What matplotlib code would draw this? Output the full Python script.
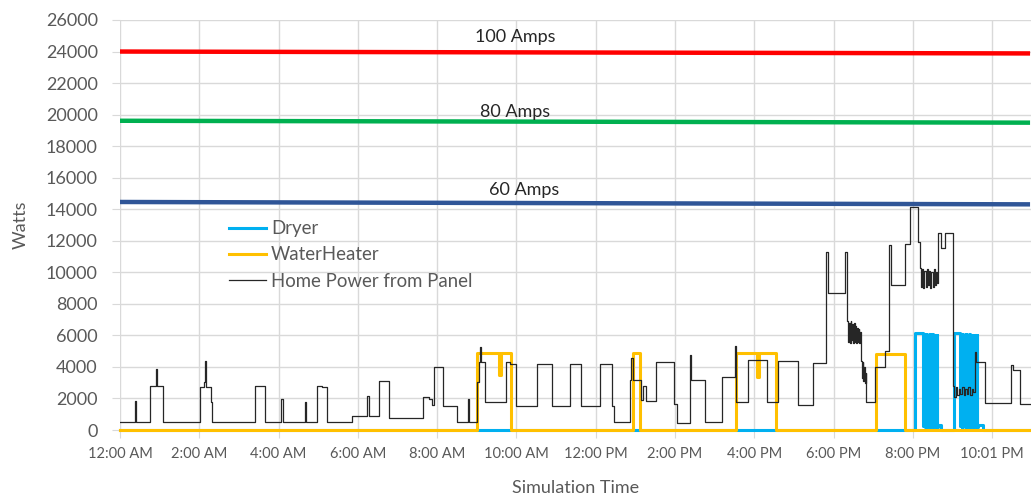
import matplotlib
matplotlib.use("Agg")
import matplotlib.pyplot as plt

# Hours since midnight and watts, drawn as steps
tick_hours = [0, 2, 4, 6, 8, 10, 12, 14, 16, 18, 20, 22]
tick_labels = ["12:00 AM", "2:00 AM", "4:00 AM", "6:00 AM", "8:00 AM", "10:00 AM",
               "12:00 PM", "2:00 PM", "4:00 PM", "6:00 PM", "8:00 PM", "10:01 PM"]

# Service limits (start / end value)
limit_labels = ["100 Amps", "80 Amps", "60 Amps"]
limit_start = [24000, 19610, 14460]
limit_end = [23880, 19490, 14310]
limit_colors = ["#FF0000", "#00B050", "#2F5597"]

home_t = [0.00, 0.38, 0.41, 0.76, 0.90, 0.93, 1.09, 2.02, 2.13, 2.15, 2.18, 2.29, 2.31,
          3.40, 3.66, 4.07, 4.10, 4.67, 4.70, 4.98, 5.10, 5.23, 5.84, 6.24, 6.27, 6.54, 6.79,
          7.65, 7.80, 7.87, 7.92, 8.15, 8.49, 8.78, 8.81, 9.00, 9.05, 9.08, 9.11, 9.20,
          9.73, 9.85, 10.00, 10.53, 10.89, 11.35, 11.63, 12.11, 12.40, 12.47, 12.86, 12.90,
          12.93, 13.13, 13.20, 13.26, 13.53, 13.98, 14.05, 14.38, 14.41, 14.75, 15.18, 15.51,
          15.55, 15.85, 16.31, 16.60, 17.11, 17.49, 17.82, 17.86, 18.29, 18.33,
          18.35, 18.37, 18.39, 18.41, 18.43, 18.45, 18.47, 18.49, 18.51, 18.53, 18.55,
          18.57, 18.59, 18.61, 18.63, 18.65, 18.67,
          18.69, 18.71, 18.73, 18.75, 18.77, 18.79, 18.81,
          18.83, 19.04, 19.30, 19.40, 19.44, 19.80, 19.92, 20.13,
          20.17, 20.20, 20.23, 20.26, 20.29, 20.32, 20.35, 20.38, 20.41, 20.44, 20.47,
          20.50, 20.53, 20.56, 20.59, 20.62,
          20.64, 20.70, 20.80,
          21.00, 21.04, 21.08, 21.12, 21.16, 21.20, 21.24, 21.28, 21.32, 21.36, 21.40,
          21.44, 21.48, 21.52,
          21.56, 21.60, 21.82, 22.47, 22.52, 22.70, 22.98]
home_w = [480, 1840, 480, 2790, 3850, 2790, 480, 2750, 3050, 4370, 2750, 1780, 480,
          2790, 480, 1950, 480, 1800, 480, 2790, 2700, 480, 890, 2170, 890, 3130, 780,
          2070, 1950, 1600, 4010, 1540, 500, 1950, 500, 3060, 4330, 5240, 4330, 1800,
          4330, 4200, 1520, 4180, 1520, 4180, 1500, 4180, 1520, 500, 3170, 4540,
          3200, 1900, 2800, 1840, 4330, 1670, 420, 4750, 3200, 500, 3380, 5330,
          1800, 4440, 1770, 4370, 1590, 4270, 11300, 8670, 11300, 7000,
          6900, 5600, 6800, 5500, 6900, 5700, 6700, 5500, 6800, 5600, 6600,
          5500, 6500, 5600, 6400, 5500, 6200,
          4400, 3300, 4300, 3100, 4000, 3000, 3600,
          1770, 4010, 5000, 11730, 9190, 11800, 14160, 11900,
          10300, 9100, 10200, 9000, 10100, 9100, 10200, 9200, 10100, 9000, 10000,
          9100, 10200, 9200, 10000, 9300,
          12470, 11540, 12470,
          2800, 2100, 2700, 2200, 2600, 2300, 2700, 2200, 2600, 2300, 2700,
          2200, 2600, 2400,
          4960, 4300, 1710, 4120, 3800, 1650, 1650]

dryer_t = [0.00, 20.05, 20.26, 20.28, 20.30, 20.32, 20.34, 20.36, 20.38, 20.40, 20.42,
           20.44, 20.46, 20.48, 20.50, 20.52, 20.54, 20.56, 20.58, 20.60, 20.62, 20.64,
           20.70, 21.04, 21.19, 21.21, 21.23, 21.25, 21.27, 21.29, 21.31, 21.33, 21.35,
           21.37, 21.39, 21.41, 21.43, 21.45, 21.47, 21.49, 21.51, 21.53, 21.55, 21.57,
           21.59, 21.61, 21.63, 21.65, 21.77, 22.98]
dryer_w = [0, 6130, 250, 6100, 200, 6100, 250, 6050, 200, 6100, 250,
           6050, 200, 6100, 250, 6050, 200, 6050, 250, 6000, 200, 300,
           0, 6130, 250, 6100, 200, 6100, 250, 6050, 200, 6100, 250,
           6050, 200, 6100, 250, 6050, 200, 6050, 250, 6000, 200, 6000,
           250, 6000, 200, 300, 0, 0]

wh_t = [0.00, 9.00, 9.57, 9.60, 9.86, 12.95, 13.11, 15.55, 16.08, 16.11, 16.56,
        19.08, 19.80, 22.98]
wh_w = [0, 4860, 3490, 4860, 0, 4900, 0, 4860, 3380, 4860, 0, 4820, 0, 0]

plt.rcParams["font.family"] = ["Lato", "DejaVu Sans"]

fig = plt.figure(figsize=(10.31, 4.95), dpi=100)
ax = fig.add_axes([0.1164, 0.1313, 0.8836, 0.8283])

x_end = 22.9
for lab, y0, y1, c in zip(limit_labels, limit_start, limit_end, limit_colors):
    ax.plot([0, x_end], [y0, y1], color=c, linewidth=3.2, zorder=3)

ax.plot(dryer_t, dryer_w, drawstyle="steps-post", color="#00B0F0", linewidth=2.2,
        label="Dryer", zorder=4, clip_on=False)
ax.plot(wh_t, wh_w, drawstyle="steps-post", color="#FFC000", linewidth=2.2,
        label="WaterHeater", zorder=5, clip_on=False)
ax.plot(home_t, home_w, drawstyle="steps-post", color="#262626", linewidth=0.9,
        label="Home Power from Panel", zorder=6)

# labels above the limit lines
ax.text(9.96, 24900, "100 Amps", ha="center", va="center", fontsize=13, color="#262626")
ax.text(9.96, 20160, "80 Amps", ha="center", va="center", fontsize=13, color="#262626")
ax.text(10.2, 15200, "60 Amps", ha="center", va="center", fontsize=13, color="#262626")

ax.set_xlim(0, 22.98)
ax.set_ylim(0, 26000)
ax.set_yticks(range(0, 26001, 2000))
ax.set_xticks(tick_hours)
ax.set_xticklabels(tick_labels)

ax.grid(True, color="#D9D9D9", linewidth=1.0, zorder=0)
ax.set_axisbelow(True)
for s in ax.spines.values():
    s.set_visible(False)
ax.tick_params(axis="both", length=6, color="#D9D9D9", labelcolor="#595959")
ax.tick_params(axis="x", pad=6, labelsize=10.5)
ax.tick_params(axis="y", pad=10, labelsize=13)

ax.set_ylabel("Watts", fontsize=13, color="#595959", labelpad=12)
ax.set_xlabel("Simulation Time", fontsize=13, color="#595959", labelpad=14)

ax.legend(loc="upper left", bbox_to_anchor=(0.101, 0.553), frameon=False,
          fontsize=13.4, handlelength=2.0, handletextpad=0.27, labelspacing=0.5,
          labelcolor="#595959")

plt.savefig("out.png", dpi=100)
